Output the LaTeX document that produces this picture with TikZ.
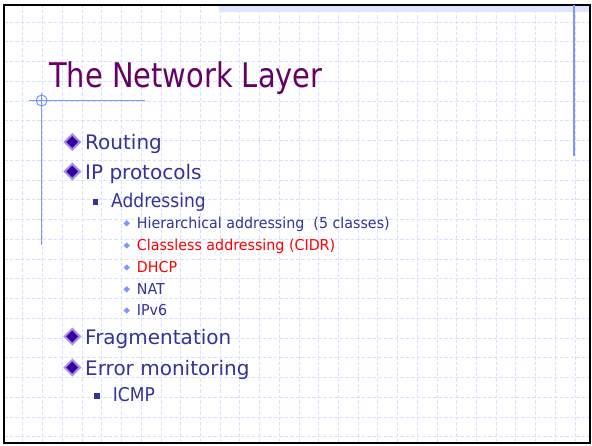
\documentclass[tikz,border=0pt]{standalone}
\usepackage{fontspec}
\setmainfont{DejaVu Sans}
\newfontfamily\titlefont[FakeStretch=0.85]{DejaVu Sans}
\newfontfamily\narrowfont[FakeStretch=0.9]{DejaVu Sans}
\newfontfamily\smallfont[FakeStretch=0.95]{DejaVu Sans}
\usetikzlibrary{positioning,shapes.geometric}
\definecolor{slidepurple}{RGB}{102,0,102}
\definecolor{slidetext}{RGB}{51,51,153}
\definecolor{slidegrid}{RGB}{214,224,255}
\definecolor{slideline}{RGB}{125,150,255}
\definecolor{bulletdark}{RGB}{51,0,153}
\definecolor{bulletring}{RGB}{165,140,235}
\definecolor{slidered}{RGB}{255,0,0}

\begin{document}
\begin{tikzpicture}[
      x=1pt,y=-1pt,
      gridline/.style={slidegrid, line width=0.5pt, dash pattern=on 3.5pt off 2pt},
      rule/.style={slideline, line width=1.2pt},
      item/.style={anchor=base west, inner sep=0pt, text=slidetext, font=\fontsize{20}{24}\selectfont},
      subitem/.style={item, font=\narrowfont\fontsize{19}{22}\selectfont},
      subsub/.style={item, font=\smallfont\fontsize{15}{18}\selectfont},
      bigdia/.style={diamond, draw=bulletring, fill=bulletdark, line width=2pt, minimum size=16pt, inner sep=0pt},
      sqbullet/.style={rectangle, fill=slidetext, minimum size=5.5pt, inner sep=0pt},
      smalldia/.style={diamond, fill=slideline, minimum size=6.5pt, inner sep=0pt}
    ]
      \useasboundingbox (0,0) rectangle (592,445);
      \fill[white] (0,0) rectangle (592,445);
      % background grid
      \foreach \i in {1,...,29} \draw[gridline] ({3+19.72*\i},4) -- ({3+19.72*\i},442);
      \foreach \j in {1,...,22} \draw[gridline] (4,{2+19.75*\j}) -- (590,{2+19.75*\j});
      \fill[slidegrid!80] (219,5) rectangle (590,12);
      \draw[line width=2pt] (4,4.5) rectangle (590,443);
      % rules
      \draw[rule] (574,5) -- (574,156);
      \draw[rule] (29,100.5) -- (145,100.5);
      \draw[rule] (41.7,93) -- (41.7,245);
      \draw[slideline, line width=1pt] (41.7,100.5) circle (5.5);
      % title
      \node[anchor=base west, inner sep=0pt, text=slidepurple, font=\titlefont\fontsize{34}{40}\selectfont] (title) at (49,87) {The Network Layer};
      % items
      \node[item] (routing) at (85,149.5) {Routing};
      \node[item] (ipproto) at (85,179) {IP protocols};
      \node[subitem] (addr) at (111,207.3) {Addressing};
      \node[subsub] (hier) at (136.7,228.3) {Hierarchical addressing\ \ (5 classes)};
      \node[subsub, text=slidered] (cidr) at (136.7,250.5) {Classless addressing (CIDR)};
      \node[subsub, text=slidered] (dhcp) at (136.7,272.5) {DHCP};
      \node[subsub] (nat) at (136.7,294.3) {NAT};
      \node[subsub] (ipv6) at (136.7,315.5) {IPv6};
      \node[item] (frag) at (85,344) {Fragmentation};
      \node[item] (errmon) at (85,375) {Error monitoring};
      \node[subitem] (icmp) at (112.7,401.7) {ICMP};
      % bullets
      \foreach \n in {routing,ipproto,frag,errmon}
        \node[bigdia] at ([xshift=-12.7pt,yshift=7.5pt]\n.base west) {};
      \foreach \n in {addr,icmp}
        \node[sqbullet] at ([xshift=-15.5pt,yshift=5.5pt]\n.base west) {};
      \foreach \n in {hier,cidr,dhcp,nat,ipv6}
        \node[smalldia] at ([xshift=-10pt,yshift=5pt]\n.base west) {};
    \end{tikzpicture}
\end{document}
